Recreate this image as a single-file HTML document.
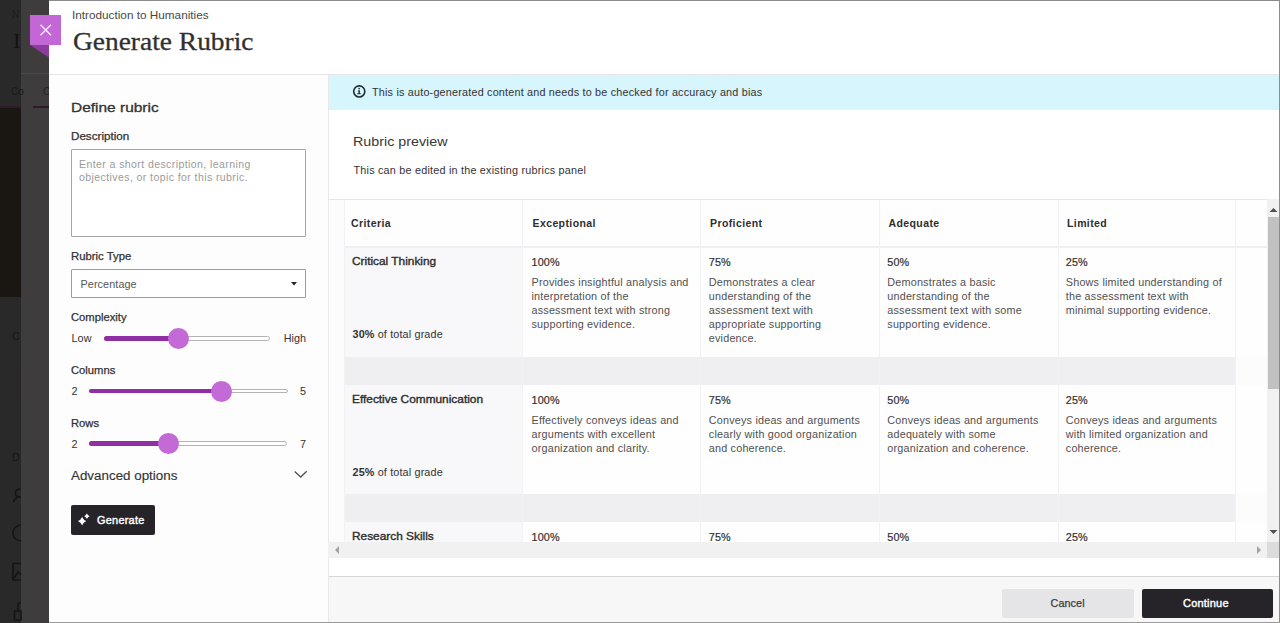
<!DOCTYPE html>
<html><head><meta charset="utf-8"><style>
*{box-sizing:border-box;margin:0;padding:0}
html,body{width:1280px;height:623px;overflow:hidden;background:#3e3c3d;font-family:"Liberation Sans",sans-serif;color:#333}
.r{position:absolute}
.t{position:absolute;white-space:nowrap;line-height:14px}
svg{position:absolute;overflow:visible}
</style></head><body>
<div class="r" style="left:0px;top:0px;width:21px;height:623px;background:#292929"></div>
<div class="r" style="left:0px;top:108px;width:21px;height:189px;background:#1a1713"></div>
<div class="r" style="left:21px;top:73px;width:28px;height:1px;background:#494949"></div>
<div class="r" style="left:0px;top:106px;width:21px;height:2px;background:#2b1b2b"></div>
<div class="r" style="left:33px;top:106px;width:16px;height:2px;background:#2b1b2b"></div>
<div class="t" style="left:12px;top:8px;font-size:10px;letter-spacing:0px;font-weight:normal;color:#1c1c1c;">N</div>
<div class='t' style="left:13px;top:30px;font-family:'Liberation Serif',serif;font-size:22px;line-height:22px;color:#121212">I</div>
<div class="t" style="left:11px;top:85px;font-size:10px;letter-spacing:0px;font-weight:normal;color:#191919;">Co</div>
<div class="t" style="left:43px;top:85px;font-size:10px;letter-spacing:0px;font-weight:normal;color:#222;">C</div>
<div class="t" style="left:12px;top:329px;font-size:11px;letter-spacing:0px;font-weight:normal;color:#161616;">C</div>
<div class="t" style="left:12px;top:450px;font-size:11px;letter-spacing:0px;font-weight:normal;color:#161616;">D</div>
<svg style="left:0;top:0" width="21" height="623" viewBox="0 0 21 623"><g fill="none" stroke="#151515" stroke-width="1.6"><path d="M21 489 Q15 489 15.5 494 Q16 497 21 497 M17 497 L13 502"/><path d="M21 525 Q13 526 13 533 Q13 540 21 541"/><path d="M21 563.5 L13 563.5 L13 580 L21 580 M14 578 L18 572 L21 575"/><path d="M18 610 L18 604 Q19 602.5 21 602.5 M14.5 611 L21 611 L21 620 L14.5 620 Z"/></g><rect x="17" y="370" width="4" height="30" fill="#29271c" opacity="0.5"/></svg>
<div class="r" style="left:49px;top:0px;width:1231px;height:623px;background:#fff"></div>
<div class="r" style="left:49px;top:0px;width:1231px;height:1px;background:#8c8c8c"></div>
<div class="r" style="left:1279px;top:0px;width:1px;height:623px;background:#8c8c8c"></div>
<div class="r" style="left:49px;top:74px;width:1230px;height:1px;background:#e6e6e6"></div>
<div class="t" style="left:72px;top:8px;font-size:10.7px;letter-spacing:0px;font-weight:normal;color:#484848;transform:scaleX(1.1);transform-origin:0 0;">Introduction to Humanities</div>
<div class='t' style="left:72.8px;top:25px;font-family:'Liberation Serif',serif;font-size:26px;line-height:34px;letter-spacing:0;transform:scaleX(1.055);transform-origin:0 0;-webkit-text-stroke:0.3px #303030;color:#303030">Generate Rubric</div>
<div class="r" style="left:30px;top:15px;width:31px;height:30px;background:#c366d6"></div>
<svg style="left:30px;top:45px" width="19" height="13"><path d="M0 0 L19 0 L19 12.5 Z" fill="#8d3c9e"/></svg>
<svg style="left:30px;top:15px" width="31" height="30"><path d="M10.5 9.8 L21 20.3 M21 9.8 L10.5 20.3" stroke="#f7e6fa" stroke-width="1.5" fill="none"/></svg>
<div class="r" style="left:49px;top:75px;width:279px;height:548px;background:#fdfdfd"></div>
<div class="t" style="left:71.3px;top:101px;font-size:12.9px;letter-spacing:0px;font-weight:normal;color:#333;-webkit-text-stroke:0.3px #333;transform:scaleX(1.2);transform-origin:0 0;">Define rubric</div>
<div class="t" style="left:71.3px;top:130px;font-size:10.3px;letter-spacing:0px;font-weight:normal;color:#333;-webkit-text-stroke:0.25px #333;transform:scaleX(1.13);transform-origin:0 0;">Description</div>
<div class="r" style="left:71px;top:149px;width:235px;height:88px;background:#fff;border:1px solid #a6a6a6;border-radius:1px"></div>
<div class="t" style="left:79px;top:157px;font-size:10.5px;letter-spacing:0.42px;font-weight:normal;color:#9a9a9a;">Enter a short description, learning</div>
<div class="t" style="left:79px;top:170px;font-size:10.5px;letter-spacing:0.42px;font-weight:normal;color:#9a9a9a;">objectives, or topic for this rubric.</div>
<div class="t" style="left:71.3px;top:250px;font-size:10.3px;letter-spacing:0px;font-weight:normal;color:#333;-webkit-text-stroke:0.25px #333;transform:scaleX(1.1);transform-origin:0 0;">Rubric Type</div>
<div class="r" style="left:71px;top:269px;width:235px;height:29px;background:#fff;border:1px solid #9c9c9c;border-radius:1px"></div>
<div class="t" style="left:80.5px;top:277px;font-size:10.8px;letter-spacing:0.1px;font-weight:normal;color:#555;">Percentage</div>
<svg style="left:291px;top:282px" width="6" height="4"><path d="M0 0 L6 0 L3 3.5 Z" fill="#262626"/></svg>
<div class="t" style="left:71.3px;top:311px;font-size:10.3px;letter-spacing:0px;font-weight:normal;color:#333;-webkit-text-stroke:0.25px #333;transform:scaleX(1.09);transform-origin:0 0;">Complexity</div>
<div class="t" style="left:71.5px;top:331px;font-size:10.8px;letter-spacing:0.1px;font-weight:normal;color:#333;">Low</div>
<div class="t" style="right:974px;top:331px;font-size:10.8px;letter-spacing:0;color:#333">High</div>
<div class="r" style="left:104.4px;top:336.1px;width:165.2px;height:4.5px;background:#fff;border:1px solid #b4b4b4;border-radius:3px"></div>
<div class="r" style="left:104.4px;top:336.1px;width:73.6px;height:4.5px;background:#902fa4;border-radius:3px 0 0 3px"></div>
<div class="r" style="left:167.5px;top:328.0px;width:21px;height:21px;border-radius:50%;background:#c46ad7"></div>
<div class="t" style="left:71.3px;top:364px;font-size:10.3px;letter-spacing:0px;font-weight:normal;color:#333;-webkit-text-stroke:0.25px #333;transform:scaleX(1.09);transform-origin:0 0;">Columns</div>
<div class="t" style="left:71.5px;top:384px;font-size:10.8px;letter-spacing:0.1px;font-weight:normal;color:#333;">2</div>
<div class="t" style="right:974px;top:384px;font-size:10.8px;letter-spacing:0;color:#333">5</div>
<div class="r" style="left:89.4px;top:388.90000000000003px;width:198.3px;height:4.5px;background:#fff;border:1px solid #b4b4b4;border-radius:3px"></div>
<div class="r" style="left:89.4px;top:388.90000000000003px;width:131.9px;height:4.5px;background:#902fa4;border-radius:3px 0 0 3px"></div>
<div class="r" style="left:210.8px;top:380.8px;width:21px;height:21px;border-radius:50%;background:#c46ad7"></div>
<div class="t" style="left:71.3px;top:417px;font-size:10.3px;letter-spacing:0px;font-weight:normal;color:#333;-webkit-text-stroke:0.25px #333;transform:scaleX(1.09);transform-origin:0 0;">Rows</div>
<div class="t" style="left:71.5px;top:437px;font-size:10.8px;letter-spacing:0.1px;font-weight:normal;color:#333;">2</div>
<div class="t" style="right:974px;top:437px;font-size:10.8px;letter-spacing:0;color:#333">7</div>
<div class="r" style="left:89.4px;top:441.3px;width:198.0px;height:4.5px;background:#fff;border:1px solid #b4b4b4;border-radius:3px"></div>
<div class="r" style="left:89.4px;top:441.3px;width:78.9px;height:4.5px;background:#902fa4;border-radius:3px 0 0 3px"></div>
<div class="r" style="left:157.8px;top:433.2px;width:21px;height:21px;border-radius:50%;background:#c46ad7"></div>
<div class="t" style="left:71px;top:469px;font-size:12px;letter-spacing:0px;font-weight:normal;color:#333;-webkit-text-stroke:0.12px #333;transform:scaleX(1.115);transform-origin:0 0;">Advanced options</div>
<svg style="left:0;top:0" width="1" height="1"><path d="M294.7 471.6 L300.7 477.1 L306.7 471.3" stroke="#555" stroke-width="1.4" fill="none"/></svg>
<div class="r" style="left:71px;top:505px;width:83.5px;height:29.5px;background:#262428;border-radius:2px"></div>
<svg style="left:0;top:0" width="1" height="1"><path d="M82.1 516.9 Q83.36 519.84 86.3 521.1 Q83.36 522.36 82.1 525.3000000000001 Q80.84 522.36 77.89999999999999 521.1 Q80.84 519.84 82.1 516.9 Z" fill="#fff"/><path d="M86.9 513.5999999999999 Q87.76 515.44 89.60000000000001 516.3 Q87.76 517.16 86.9 519.0 Q86.04 517.16 84.2 516.3 Q86.04 515.44 86.9 513.5999999999999 Z" fill="#fff"/></svg>
<div class="t" style="left:96.5px;top:513px;font-size:10.6px;letter-spacing:0.25px;font-weight:normal;color:#fff;-webkit-text-stroke:0.4px #fff;transform:scaleX(1.03);transform-origin:0 0;">Generate</div>
<div class="r" style="left:328px;top:75px;width:951px;height:500px;background:#fff"></div>
<div class="r" style="left:328px;top:75px;width:1px;height:501px;background:#e9e9e9"></div>
<div class="r" style="left:329px;top:75px;width:950px;height:35px;background:#d6f5fc"></div>
<svg style="left:0;top:0" width="1" height="1"><circle cx="359.25" cy="91.4" r="5.55" stroke="#1d2f33" stroke-width="1.6" fill="none"/><circle cx="359.2" cy="88.5" r="0.85" fill="#1d2f33"/><path d="M358 90.3 L359.9 90.3 L359.9 93.3 L360.8 93.3 L360.8 94.3 L357.2 94.3 L357.2 93.3 L358.5 93.3 L358.5 91.2 L358 91.2 Z" fill="#1d2f33"/></svg>
<div class="t" style="left:372px;top:85px;font-size:10.8px;letter-spacing:0.2px;font-weight:normal;color:#333;">This is auto-generated content and needs to be checked for accuracy and bias</div>
<div class="t" style="left:353px;top:135px;font-size:13px;letter-spacing:0px;font-weight:normal;color:#383838;transform:scaleX(1.1);transform-origin:0 0;">Rubric preview</div>
<div class="t" style="left:353.5px;top:163px;font-size:10.8px;letter-spacing:0.22px;font-weight:normal;color:#333;">This can be edited in the existing rubrics panel</div>
<div class="r" style="left:328px;top:199px;width:939px;height:343px;overflow:hidden;background:#fcfcfc"><div class="r" style="left:-328px;top:-199px;width:1280px;height:623px">
<div class="r" style="left:328px;top:199px;width:939px;height:1px;background:#e6e6e6"></div>
<div class="r" style="left:328px;top:200px;width:1px;height:360px;background:#e9e9e9"></div>
<div class="r" style="left:344px;top:200px;width:923px;height:47px;background:#fefefe"></div>
<div class="r" style="left:344px;top:246px;width:923px;height:2px;background:#f0eff1"></div>
<div class="r" style="left:344px;top:248px;width:178.5px;height:109px;background:#f8f7f9"></div>
<div class="r" style="left:522.5px;top:248px;width:744.5px;height:109px;background:#fefefe"></div>
<div class="r" style="left:344px;top:385px;width:178.5px;height:109px;background:#f8f7f9"></div>
<div class="r" style="left:522.5px;top:385px;width:744.5px;height:109px;background:#fefefe"></div>
<div class="r" style="left:344px;top:522px;width:178.5px;height:38px;background:#f8f7f9"></div>
<div class="r" style="left:522.5px;top:522px;width:744.5px;height:38px;background:#fefefe"></div>
<div class="r" style="left:344px;top:357px;width:891px;height:28px;background:#efeef0"></div>
<div class="r" style="left:344px;top:494px;width:891px;height:28px;background:#efeef0"></div>
<div class="r" style="left:344px;top:200px;width:1px;height:360px;background:#f2f1f3"></div>
<div class="r" style="left:522px;top:200px;width:1px;height:360px;background:#f2f1f3"></div>
<div class="r" style="left:700px;top:200px;width:1px;height:360px;background:#f2f1f3"></div>
<div class="r" style="left:879px;top:200px;width:1px;height:360px;background:#f2f1f3"></div>
<div class="r" style="left:1058px;top:200px;width:1px;height:360px;background:#f2f1f3"></div>
<div class="r" style="left:1235px;top:200px;width:1px;height:360px;background:#f2f1f3"></div>
<div class="t" style="left:351px;top:216px;font-size:10.5px;letter-spacing:0.4px;font-weight:bold;color:#2e2e2e;">Criteria</div>
<div class="t" style="left:532.5px;top:216px;font-size:10.5px;letter-spacing:0.4px;font-weight:bold;color:#2e2e2e;">Exceptional</div>
<div class="t" style="left:710px;top:216px;font-size:10.5px;letter-spacing:0.4px;font-weight:bold;color:#2e2e2e;">Proficient</div>
<div class="t" style="left:888.5px;top:216px;font-size:10.5px;letter-spacing:0.4px;font-weight:bold;color:#2e2e2e;">Adequate</div>
<div class="t" style="left:1067px;top:216px;font-size:10.5px;letter-spacing:0.4px;font-weight:bold;color:#2e2e2e;">Limited</div>
<div class="t" style="left:351.9px;top:254px;font-size:10.6px;letter-spacing:0px;font-weight:normal;color:#2e2e2e;-webkit-text-stroke:0.35px #2e2e2e;transform:scaleX(1.12);transform-origin:0 0;">Critical Thinking</div>
<div class="t" style="left:352.5px;top:327px;font-size:10.8px;letter-spacing:0.15px;font-weight:normal;color:#333;"><b>30%</b> of total grade</div>
<div class="t" style="left:531.5px;top:255px;font-size:10.8px;letter-spacing:0.15px;font-weight:normal;color:#303030;-webkit-text-stroke:0.2px #303030;">100%</div>
<div class="t" style="left:531.5px;top:275px;font-size:10.8px;letter-spacing:0.2px;font-weight:normal;color:#505050;">Provides insightful analysis and</div>
<div class="t" style="left:531.5px;top:289px;font-size:10.8px;letter-spacing:0.2px;font-weight:normal;color:#505050;">interpretation of the</div>
<div class="t" style="left:531.5px;top:303px;font-size:10.8px;letter-spacing:0.2px;font-weight:normal;color:#505050;">assessment text with strong</div>
<div class="t" style="left:531.5px;top:317px;font-size:10.8px;letter-spacing:0.2px;font-weight:normal;color:#505050;">supporting evidence.</div>
<div class="t" style="left:708.8px;top:255px;font-size:10.8px;letter-spacing:0.15px;font-weight:normal;color:#303030;-webkit-text-stroke:0.2px #303030;">75%</div>
<div class="t" style="left:708.8px;top:275px;font-size:10.8px;letter-spacing:0.2px;font-weight:normal;color:#505050;">Demonstrates a clear</div>
<div class="t" style="left:708.8px;top:289px;font-size:10.8px;letter-spacing:0.2px;font-weight:normal;color:#505050;">understanding of the</div>
<div class="t" style="left:708.8px;top:303px;font-size:10.8px;letter-spacing:0.2px;font-weight:normal;color:#505050;">assessment text with</div>
<div class="t" style="left:708.8px;top:317px;font-size:10.8px;letter-spacing:0.2px;font-weight:normal;color:#505050;">appropriate supporting</div>
<div class="t" style="left:708.8px;top:331px;font-size:10.8px;letter-spacing:0.2px;font-weight:normal;color:#505050;">evidence.</div>
<div class="t" style="left:887.3px;top:255px;font-size:10.8px;letter-spacing:0.15px;font-weight:normal;color:#303030;-webkit-text-stroke:0.2px #303030;">50%</div>
<div class="t" style="left:887.3px;top:275px;font-size:10.8px;letter-spacing:0.2px;font-weight:normal;color:#505050;">Demonstrates a basic</div>
<div class="t" style="left:887.3px;top:289px;font-size:10.8px;letter-spacing:0.2px;font-weight:normal;color:#505050;">understanding of the</div>
<div class="t" style="left:887.3px;top:303px;font-size:10.8px;letter-spacing:0.2px;font-weight:normal;color:#505050;">assessment text with some</div>
<div class="t" style="left:887.3px;top:317px;font-size:10.8px;letter-spacing:0.2px;font-weight:normal;color:#505050;">supporting evidence.</div>
<div class="t" style="left:1065.8px;top:255px;font-size:10.8px;letter-spacing:0.15px;font-weight:normal;color:#303030;-webkit-text-stroke:0.2px #303030;">25%</div>
<div class="t" style="left:1065.8px;top:275px;font-size:10.8px;letter-spacing:0.2px;font-weight:normal;color:#505050;">Shows limited understanding of</div>
<div class="t" style="left:1065.8px;top:289px;font-size:10.8px;letter-spacing:0.2px;font-weight:normal;color:#505050;">the assessment text with</div>
<div class="t" style="left:1065.8px;top:303px;font-size:10.8px;letter-spacing:0.2px;font-weight:normal;color:#505050;">minimal supporting evidence.</div>
<div class="t" style="left:351.9px;top:392px;font-size:10.6px;letter-spacing:0px;font-weight:normal;color:#2e2e2e;-webkit-text-stroke:0.35px #2e2e2e;transform:scaleX(1.12);transform-origin:0 0;">Effective Communication</div>
<div class="t" style="left:352.5px;top:465px;font-size:10.8px;letter-spacing:0.15px;font-weight:normal;color:#333;"><b>25%</b> of total grade</div>
<div class="t" style="left:531.5px;top:393px;font-size:10.8px;letter-spacing:0.15px;font-weight:normal;color:#303030;-webkit-text-stroke:0.2px #303030;">100%</div>
<div class="t" style="left:531.5px;top:413px;font-size:10.8px;letter-spacing:0.2px;font-weight:normal;color:#505050;">Effectively conveys ideas and</div>
<div class="t" style="left:531.5px;top:427px;font-size:10.8px;letter-spacing:0.2px;font-weight:normal;color:#505050;">arguments with excellent</div>
<div class="t" style="left:531.5px;top:441px;font-size:10.8px;letter-spacing:0.2px;font-weight:normal;color:#505050;">organization and clarity.</div>
<div class="t" style="left:708.8px;top:393px;font-size:10.8px;letter-spacing:0.15px;font-weight:normal;color:#303030;-webkit-text-stroke:0.2px #303030;">75%</div>
<div class="t" style="left:708.8px;top:413px;font-size:10.8px;letter-spacing:0.2px;font-weight:normal;color:#505050;">Conveys ideas and arguments</div>
<div class="t" style="left:708.8px;top:427px;font-size:10.8px;letter-spacing:0.2px;font-weight:normal;color:#505050;">clearly with good organization</div>
<div class="t" style="left:708.8px;top:441px;font-size:10.8px;letter-spacing:0.2px;font-weight:normal;color:#505050;">and coherence.</div>
<div class="t" style="left:887.3px;top:393px;font-size:10.8px;letter-spacing:0.15px;font-weight:normal;color:#303030;-webkit-text-stroke:0.2px #303030;">50%</div>
<div class="t" style="left:887.3px;top:413px;font-size:10.8px;letter-spacing:0.2px;font-weight:normal;color:#505050;">Conveys ideas and arguments</div>
<div class="t" style="left:887.3px;top:427px;font-size:10.8px;letter-spacing:0.2px;font-weight:normal;color:#505050;">adequately with some</div>
<div class="t" style="left:887.3px;top:441px;font-size:10.8px;letter-spacing:0.2px;font-weight:normal;color:#505050;">organization and coherence.</div>
<div class="t" style="left:1065.8px;top:393px;font-size:10.8px;letter-spacing:0.15px;font-weight:normal;color:#303030;-webkit-text-stroke:0.2px #303030;">25%</div>
<div class="t" style="left:1065.8px;top:413px;font-size:10.8px;letter-spacing:0.2px;font-weight:normal;color:#505050;">Conveys ideas and arguments</div>
<div class="t" style="left:1065.8px;top:427px;font-size:10.8px;letter-spacing:0.2px;font-weight:normal;color:#505050;">with limited organization and</div>
<div class="t" style="left:1065.8px;top:441px;font-size:10.8px;letter-spacing:0.2px;font-weight:normal;color:#505050;">coherence.</div>
<div class="t" style="left:351.9px;top:529px;font-size:10.6px;letter-spacing:0px;font-weight:normal;color:#2e2e2e;-webkit-text-stroke:0.35px #2e2e2e;transform:scaleX(1.12);transform-origin:0 0;">Research Skills</div>
<div class="t" style="left:531.5px;top:530px;font-size:10.8px;letter-spacing:0.15px;font-weight:normal;color:#303030;-webkit-text-stroke:0.2px #303030;">100%</div>
<div class="t" style="left:708.8px;top:530px;font-size:10.8px;letter-spacing:0.15px;font-weight:normal;color:#303030;-webkit-text-stroke:0.2px #303030;">75%</div>
<div class="t" style="left:887.3px;top:530px;font-size:10.8px;letter-spacing:0.15px;font-weight:normal;color:#303030;-webkit-text-stroke:0.2px #303030;">50%</div>
<div class="t" style="left:1065.8px;top:530px;font-size:10.8px;letter-spacing:0.15px;font-weight:normal;color:#303030;-webkit-text-stroke:0.2px #303030;">25%</div>
</div></div>
<div class="r" style="left:1267px;top:199px;width:12px;height:343px;background:#f1f1f1"></div>
<div class="r" style="left:1268px;top:217px;width:11px;height:172px;background:#c1c1c1"></div>
<div class="r" style="left:328px;top:542px;width:939px;height:16px;background:#f1f1f1"></div>
<div class="r" style="left:1267px;top:542px;width:12px;height:16px;background:#dcdcdc"></div>
<svg style="left:0;top:0" width="1" height="1"><path d="M1269.5 212 L1277.5 212 L1273.5 208 Z" fill="#505050"/><path d="M1269.5 530 L1277.5 530 L1273.5 534 Z" fill="#505050"/><path d="M339 546 L339 554 L335 550 Z" fill="#a3a3a3"/><path d="M1257 546 L1257 554 L1261 550 Z" fill="#a3a3a3"/></svg>
<div class="r" style="left:328px;top:576px;width:951px;height:47px;background:#f7f7f8"></div>
<div class="r" style="left:328px;top:575.5px;width:951px;height:1.0px;background:#d6d6d6"></div>
<div class="r" style="left:328px;top:576px;width:1px;height:47px;background:#e9e9e9"></div>
<div class="r" style="left:1002px;top:588.5px;width:131.75px;height:29.0px;background:#e5e5e7;border-radius:2px"></div>
<div class="r" style="left:1142px;top:588.5px;width:131px;height:29.0px;background:#262428;border-radius:2px"></div>
<div class="t" style="left:1050.5px;top:596px;font-size:10.8px;letter-spacing:0.1px;font-weight:normal;color:#3c3c3c;-webkit-text-stroke:0.25px #3c3c3c;">Cancel</div>
<div class="t" style="left:1183px;top:596px;font-size:10.8px;letter-spacing:0.2px;font-weight:normal;color:#fff;-webkit-text-stroke:0.4px #fff;transform:scaleX(1.02);transform-origin:0 0;">Continue</div>
<div class="r" style="left:49px;top:622px;width:1231px;height:1px;background:#9a9a9a"></div>
</body></html>
